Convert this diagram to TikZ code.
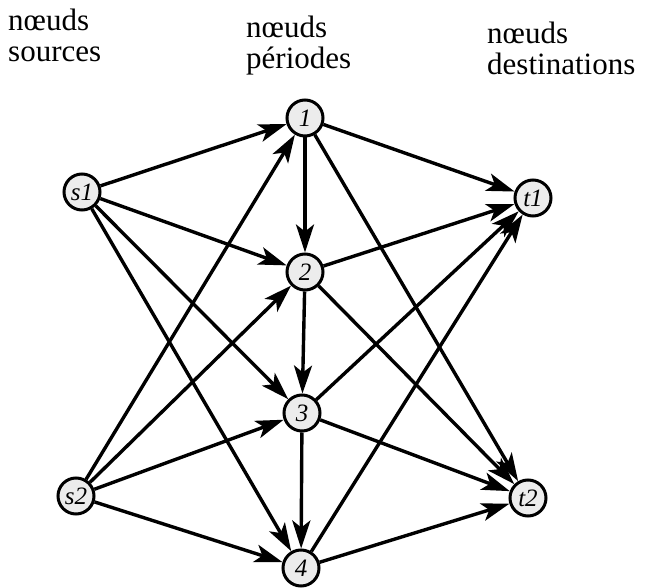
\documentclass[tikz,border=0pt]{standalone}
\usepackage{fontspec}
\setmainfont{Liberation Serif}
\usetikzlibrary{arrows.meta}
\begin{document}
\begin{tikzpicture}[x=1pt,y=-1pt,
  nd/.style={circle,draw,line width=3pt,fill=gray!15,minimum size=36pt,inner sep=0pt,font=\fontsize{25}{25}\selectfont\itshape},
  arr/.style={line width=3.4pt,-{Stealth[length=28pt,width=18pt,inset=7pt]}},
  hdr/.style={anchor=base west,align=left,inner sep=0pt,font=\fontsize{31}{31}\selectfont}]
\useasboundingbox (0,0) rectangle (654,588);
% headers (anchored at baseline of the second line)
\node[hdr] (h1) at (8,62) {nœuds\\sources};
\node[hdr] (h2) at (246,69) {nœuds\\périodes};
\node[hdr] (h3) at (487,75) {nœuds\\destinations};
% nodes
\node[nd] (s1) at (82,192) {s1};
\node[nd] (s2) at (76,496) {s2};
\node[nd] (p1) at (305,118) {1};
\node[nd] (p2) at (305,272) {2};
\node[nd] (p3) at (302,413) {3};
\node[nd] (p4) at (301,568) {4};
\node[nd] (t1) at (533,198) {t1};
\node[nd] (t2) at (528,498) {t2};
% edges
\foreach \a in {s1,s2} \foreach \b in {p1,p2,p3,p4} \draw[arr] (\a) -- (\b);
\draw[arr] (p1) -- (p2);
\draw[arr] (p2) -- (p3);
\draw[arr] (p3) -- (p4);
\foreach \a in {p1,p2,p3,p4} \foreach \b in {t1,t2} \draw[arr] (\a) -- (\b);
\end{tikzpicture}
\end{document}
